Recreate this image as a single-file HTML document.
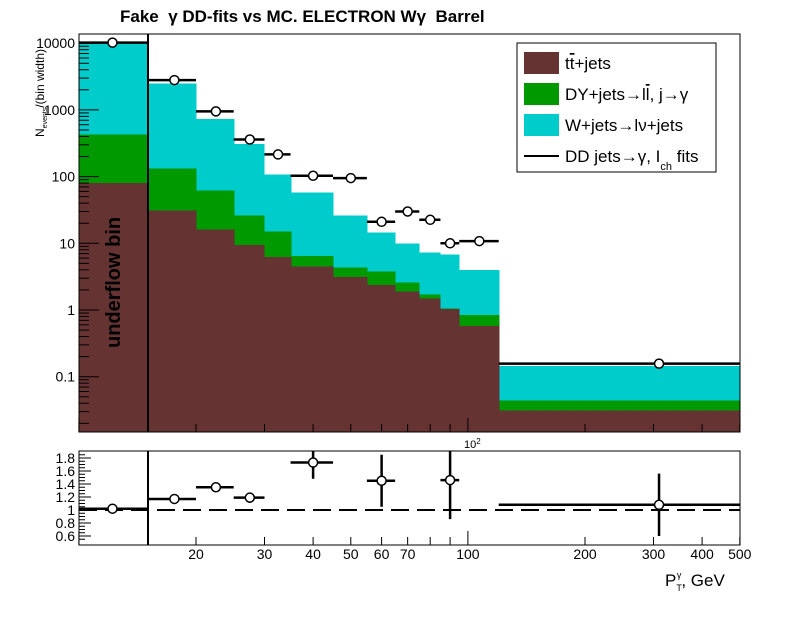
<!DOCTYPE html>
<html><head><meta charset="utf-8"><style>
body{margin:0;background:#fff;width:796px;height:624px;overflow:hidden}
svg{font-family:"Liberation Sans",sans-serif}
</style></head><body>
<svg id="c" width="796" height="624" xmlns="http://www.w3.org/2000/svg"></svg>
<script>
const binEdges=[10,15,20,25,30,35,45,55,65,75,85,95,120,500];
const ttbar=[80,31,16,9.5,6.2,4.5,3.1,2.35,1.9,1.5,1.03,0.58,0.031];
const dyTop=[430,133,62,26,15,6.5,4.3,3.8,2.6,1.7,1.05,0.84,0.044];
const wjTop=[10000,2500,730,310,107,58,26,14.5,10,7.3,6.8,4.0,0.145];
const ddX=[12.2,17.6,22.5,27.5,32.5,40,50,60,70,80,90,107,310];
const ddVal=[10200,2800,950,360,215,103,95,21,30,22.5,10,10.8,0.157];
const ratioBins=[0,1,2,3,5,7,10,12];
const ratioVal=[1.02,1.17,1.35,1.19,1.73,1.45,1.46,1.08];
const ratioErr=[0.02,0.04,0.04,0.08,0.25,0.4,0.6,0.48];
const yTicks=[0.1,1,10,100,1000,10000];
const yTickLabels=["0.1","1","10","100","1000","10000"];
const rTicks=[0.6,0.8,1,1.2,1.4,1.6,1.8];
const rTickLabels=["0.6","0.8","1","1.2","1.4","1.6","1.8"];
const xTicks=[20,30,40,50,60,70,100,200,300,400,500];
const xTickLabels=["20","30","40","50","60","70","100","200","300","400","500"];

const svg=document.getElementById('c');
const NS="http://www.w3.org/2000/svg";
const L=79,R=740,T=34,B=432,RT=451,RB=545;
const X=v=>196+389*(Math.log10(v)-Math.log10(20));
const Y=v=>310-66.7*Math.log10(v);
const RY=v=>510-65*(v-1);
function el(tag,attrs,parent){const e=document.createElementNS(NS,tag);for(const k in attrs)e.setAttribute(k,attrs[k]);(parent||svg).appendChild(e);return e;}
function txt(x,y,s,attrs){const e=el('text',Object.assign({x:x,y:y},attrs||{}));e.innerHTML=s;return e;}

const gStack=el('g',{'shape-rendering':'crispEdges'});


const layers=[[wjTop,'#00cccc','w-jets'],[dyTop,'#009900','dy-jets'],[ttbar,'#663333','ttbar']];
layers.forEach(([arr,col,nm])=>{
 for(let i=0;i<arr.length;i++){
  const x0=Math.round(X(binEdges[i])),x1=Math.round(X(binEdges[i+1])),y=Math.max(T,Y(arr[i]));
  const r=el('rect',{x:x0,y:y,width:x1-x0+0.5,height:B-y,fill:col},gStack);
  
  
 }
});
const fm=el('rect',{x:L,y:T,width:R-L,height:B-T,fill:'none',stroke:'#000','stroke-width':1});

for(let d=-2;d<=4;d++){for(let m=1;m<10;m++){const v=m*Math.pow(10,d);const y=Y(v);if(y<T||y>B)continue;el('line',{x1:L,x2:L+(m==1?20:10),y1:y,y2:y,stroke:'#000'});}}
yTicks.forEach((v,i)=>{const t=txt(75,Y(v)+5,yTickLabels[i],{'text-anchor':'end','font-size':14});});
function xt(top,bot){for(let d=1;d<=2;d++)for(let m=1;m<10;m++){const v=m*Math.pow(10,d);if(v<10||v>500)continue;const x=X(v);const big=(m==1);el('line',{x1:x,x2:x,y1:bot,y2:bot-(big?14:8),stroke:'#000'});}}
xt(T,B);xt(RT,RB);
txt(464,448,'10<tspan dy="-4" font-size="8">2</tspan>',{'font-size':11});
el('line',{x1:148,x2:148,y1:T,y2:B,stroke:'#000','stroke-width':2});
const uf=txt(0,0,'underflow bin',{'font-size':20,'font-weight':'bold',transform:'translate(120,348) rotate(-90)'});

const gD=el('g',{});
ddVal.forEach((v,i)=>{const y=Y(v);el('line',{x1:X(binEdges[i]),x2:X(binEdges[i+1]),y1:y,y2:y,stroke:'#000','stroke-width':2.5},gD);
 const c=el('circle',{cx:X(ddX[i]),cy:y,r:4.5,fill:'#fff',stroke:'#000','stroke-width':1.5},gD);});
const tt=txt(120,22,'Fake &#160;γ DD-fits vs MC. ELECTRON Wγ &#160;Barrel',{'font-size':17,'font-weight':'bold'});

const yt=txt(0,0,'N<tspan font-size="7" dy="3">events</tspan><tspan dy="-3">/(bin width)</tspan>',{'font-size':12,transform:'translate(44,137) rotate(-90)'});

const lg=el('g',{});
el('rect',{x:517,y:43,width:199,height:129,fill:'#fff',stroke:'#000'},lg);
const lent=[['#663333','t<tspan text-decoration="overline">t</tspan>+jets'],['#009900','DY+jets→l<tspan text-decoration="overline">l</tspan>, j→γ'],['#00cccc','W+jets→lν+jets']];
lent.forEach((e,i)=>{const y=52+i*31;el('rect',{x:524,y:y,width:35,height:22,fill:e[0]},lg);const t=txt(565,y+17,e[1],{'font-size':17},);lg.appendChild(t);});
el('line',{x1:524,x2:559,y1:156,y2:156,stroke:'#000','stroke-width':2},lg);
lg.appendChild(txt(565,162,'DD jets→γ, I<tspan font-size="11" dy="8">ch</tspan><tspan dy="-8"> fits</tspan>',{'font-size':17}));
const fr=el('rect',{x:L,y:RT,width:R-L,height:RB-RT,fill:'none',stroke:'#000'});

for(let v=0.55;v<1.9;v+=0.05){const y=RY(v);if(y<RT||y>RB)continue;const big=Math.abs(v*5-Math.round(v*5))<0.01;el('line',{x1:L,x2:L+(big?12:6),y1:y,y2:y,stroke:'#000'});}
rTicks.forEach((v,i)=>{const t=txt(75,RY(v)+5,rTickLabels[i],{'text-anchor':'end','font-size':14});});
el('line',{x1:148,x2:148,y1:RT,y2:RB,stroke:'#000','stroke-width':2});
const dl=el('line',{x1:L,x2:R,y1:RY(1),y2:RY(1),stroke:'#000','stroke-width':2,'stroke-dasharray':'18,8'});

const gR=el('g',{});
ratioBins.forEach((b,i)=>{const y=RY(ratioVal[i]),x=X(ddX[b]);
 el('line',{x1:X(binEdges[b]),x2:X(binEdges[b+1]),y1:y,y2:y,stroke:'#000','stroke-width':2.5},gR);
 el('line',{x1:x,x2:x,y1:Math.max(RT,RY(ratioVal[i]+ratioErr[i])),y2:Math.min(RB,RY(ratioVal[i]-ratioErr[i])),stroke:'#000','stroke-width':2.5},gR);
 const c=el('circle',{cx:x,cy:y,r:4.5,fill:'#fff',stroke:'#000','stroke-width':1.5},gR);});
xTicks.forEach((v,i)=>{const t=txt(X(v),559,xTickLabels[i],{'text-anchor':'middle','font-size':14});});
const xtl=txt(665,586,'P<tspan font-size="9" dy="5">T</tspan><tspan font-size="9" dx="-5" dy="-13">γ</tspan><tspan dy="8">, GeV</tspan>',{'font-size':17});

</script>
</body></html>
